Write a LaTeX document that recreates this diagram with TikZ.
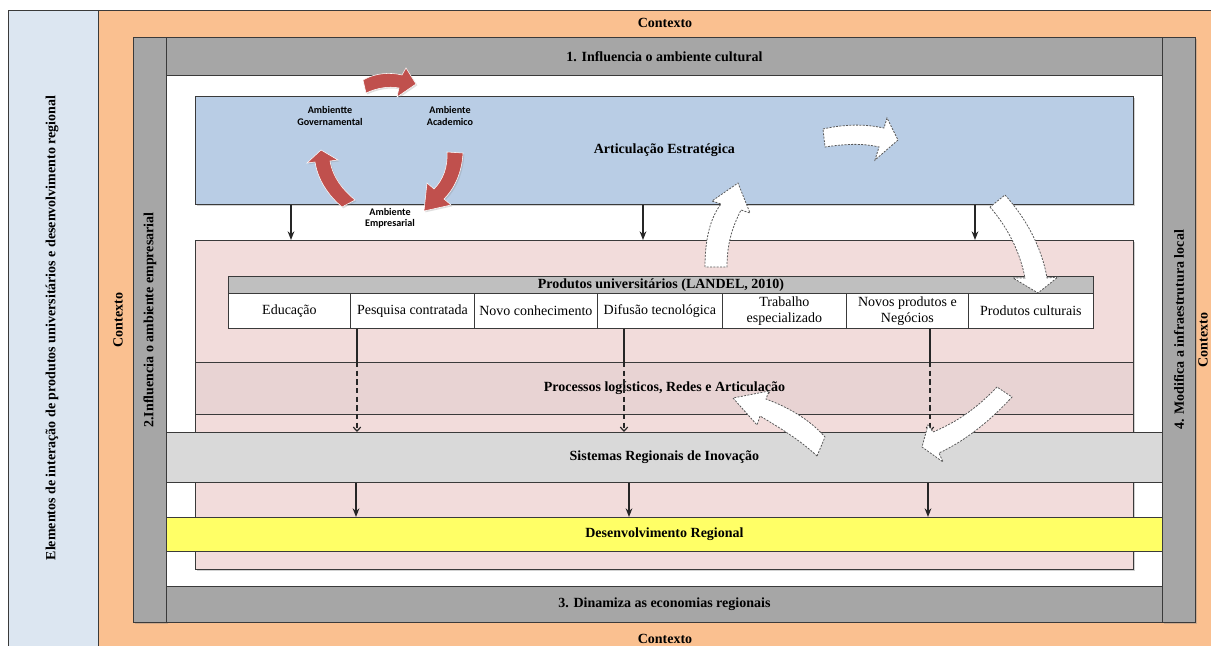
\documentclass[tikz,border=0pt]{standalone}
\usepackage{fontspec}
\setmainfont{Liberation Serif}
\newfontfamily\labelsans{Carlito}
\usetikzlibrary{arrows.meta,shadows,calc}

\definecolor{ctxorange}{HTML}{FAC090}
\definecolor{leftblue}{HTML}{DCE6F1}
\definecolor{framegray}{HTML}{A6A6A6}
\definecolor{artblue}{HTML}{B9CDE5}
\definecolor{prodpink}{HTML}{F2DCDB}
\definecolor{procpink}{HTML}{E8D3D3}
\definecolor{srigray}{HTML}{D9D9D9}
\definecolor{devyellow}{HTML}{FFFF66}
\definecolor{headgray}{HTML}{BFBFBF}
\definecolor{cycred}{HTML}{C0504D}
\definecolor{edgegray}{HTML}{3A3A3A}

\newcommand\hdrfont{\bfseries\fontsize{10.5}{12}\selectfont}
% rectangle node given by its corners (pixel units, y downwards)
\newcommand\boxat[7]{\node[#6, minimum width={(#4-#2)*0.75pt}, minimum height={(#5-#3)*0.75pt}, inner sep=0pt, anchor=north west] (#1) at (#2,#3) {#7};}

\tikzset{
  panel/.style={draw=edgegray, line width=0.6pt},
  softshadow/.style={drop shadow={opacity=0.35, shadow xshift=1.1pt, shadow yshift=-1.1pt}},
  lbl/.style={font=\hdrfont, inner sep=0pt},
  cell/.style={panel, fill=white, align=center, font=\fontsize{10.5}{12}\selectfont},
  down/.style={-{Stealth[length=6.5pt,width=5pt]}, line width=1.1pt, draw=black!85},
  dashdown/.style={dash pattern=on 4pt off 2.5pt, line width=0.9pt, draw=black!85, -{Straight Barb[length=3pt,width=5.5pt]}},
  cyc/.style={fill=cycred, draw=white, line width=0.4pt, drop shadow={opacity=0.25, shadow xshift=1pt, shadow yshift=-1pt}},
  flow/.style={fill=white, draw=black!65, line width=0.6pt, dash pattern=on 1.5pt off 1pt},
  amb/.style={font=\labelsans\bfseries\fontsize{7.6}{8.6}\selectfont, align=center, inner sep=0pt},
}

\begin{document}
\begin{tikzpicture}[x=0.75pt,y=-0.75pt]
\useasboundingbox (0,0) rectangle (1211,646);
\clip (0,0) rectangle (1211,646);

% outer panels
\boxat{side}{8}{10}{98}{660}{panel, fill=leftblue}{}
\boxat{ctx}{98}{10}{1240}{660}{panel, fill=ctxorange}{}

% grey frame
\boxat{lbar}{133}{37}{166}{622}{panel, fill=framegray, softshadow}{}
\boxat{rbar}{1162}{37}{1195}{622}{panel, fill=framegray, softshadow}{}
\boxat{tband}{166}{37}{1162}{75}{panel, fill=framegray, font=\hdrfont}{1. Influencia o ambiente cultural}
\boxat{bband}{166}{586}{1162}{622}{panel, fill=framegray, font=\hdrfont}{3. Dinamiza as economias regionais}
\boxat{inner}{166}{75}{1162}{586}{panel, fill=white}{}

% strategic articulation
\boxat{art}{195}{96}{1133}{204}{panel, fill=artblue, softshadow, font=\hdrfont}{Articulação Estratégica}

% university products area
\boxat{prod}{195}{240}{1133}{569}{panel, fill=prodpink, softshadow}{}
\boxat{proc}{195}{362}{1133}{414}{panel, fill=procpink, font=\hdrfont}{Processos logísticos, Redes e Articulação}

\boxat{phead}{228}{276}{1093}{293}{panel, fill=headgray, font=\hdrfont}{Produtos universitários (LANDEL, 2010)}
\boxat{p1}{228}{293}{350}{328}{cell}{Educação}
\boxat{p2}{350}{293}{474}{328}{cell}{Pesquisa contratada}
\boxat{p3}{474}{293}{597}{328}{cell}{Novo conhecimento}
\boxat{p4}{597}{293}{722}{328}{cell}{Difusão tecnológica}
\boxat{p5}{722}{293}{846}{328}{cell}{Trabalho\\especializado}
\boxat{p6}{846}{293}{968}{328}{cell}{Novos produtos e\\Negócios}
\boxat{p7}{968}{293}{1093}{328}{cell}{Produtos culturais}

% regional bands
\boxat{sri}{166}{432}{1162}{482}{panel, fill=srigray, font=\hdrfont}{Sistemas Regionais de Inovação}
\boxat{dev}{166}{517}{1162}{551}{panel, fill=devyellow, font=\hdrfont}{Desenvolvimento Regional}

% context labels
\node[lbl] (ctxtop) at (665,23) {Contexto};
\node[lbl] (ctxbot) at (665,639) {Contexto};
\node[lbl, rotate=90] (ctxleft) at (118,320) {Contexto};
\node[lbl, rotate=90] (ctxright) at (1203,340) {Contexto};
\node[lbl, rotate=90] (sidetxt) at (52,328) {Elementos de interação de produtos universitários e desenvolvimento regional};
\node[lbl, rotate=90] (ltxt) at (150,320) {2.Influencia o ambiente empresarial};
\node[lbl, rotate=90] (rtxt) at (1179,330) {4. Modifica a infraestrutura local};

% columns of connectors
\coordinate (k1) at (291,0);
\coordinate (k2) at (643,0);
\coordinate (k3) at (975,0);
\coordinate (d1) at (357,0);
\coordinate (d2) at (624,0);
\coordinate (d3) at (930,0);
\coordinate (e1) at (356,0);
\coordinate (e2) at (629,0);
\coordinate (e3) at (928,0);

\draw[down] (art.south -| k1) -- (prod.north -| k1);
\draw[down] (art.south -| k2) -- (prod.north -| k2);
\draw[down] (art.south -| k3) -- (prod.north -| k3);

\draw[line width=0.8pt, draw=black!85] (p2.south -| d1) -- (proc.north -| d1);
\draw[line width=0.8pt, draw=black!85] (p4.south -| d2) -- (proc.north -| d2);
\draw[line width=0.8pt, draw=black!85] (p6.south -| d3) -- (proc.north -| d3);
\draw[dashdown] (proc.north -| d1) -- (sri.north -| d1);
\draw[dashdown] (proc.north -| d2) -- (sri.north -| d2);
\draw[dashdown] (proc.north -| d3) -- (sri.north -| d3);

\draw[down] (sri.south -| e1) -- (dev.north -| e1);
\draw[down] (sri.south -| e2) -- (dev.north -| e2);
\draw[down] (sri.south -| e3) -- (dev.north -| e3);

% triple helix cycle
\path[cyc] (363,80) .. controls (375,73) and (390,72) .. (402,75) -- (406,68) -- (416,84) -- (397,97) -- (399,88) .. controls (388,86) and (377,88) .. (366,93) -- cycle;
\path[cyc] (447,152) -- (463,153) .. controls (462,172) and (455,188) .. (444,199) -- (451,205) -- (424,211) -- (427,183) -- (434,189) .. controls (443,180) and (448,167) .. (447,152) -- cycle;
\path[cyc] (342,207) -- (355,200) .. controls (343,190) and (333,178) .. (330,161) -- (338,160) -- (321,150) -- (307,163) -- (315,162) .. controls (318,180) and (328,195) .. (342,207) -- cycle;

\node[amb] (gov) at (330,116) {Ambientte\\Governamental};
\node[amb] (acad) at (450,116) {Ambiente\\Academico};
\node[amb] (emp) at (390,218) {Ambiente\\Empresarial};

% feedback flows
\draw[flow] (823,129) .. controls (845,124) and (865,124) .. (884,128) -- (887,118) -- (898,140) -- (875,160) -- (879,147) .. controls (862,143) and (845,144) .. (825,147) -- cycle;
\draw[flow] (705,267) .. controls (705,237) and (711,217) .. (721,204) -- (712,201) -- (738,183) -- (750,213) -- (741,210) .. controls (733,226) and (727,242) .. (727,267) -- cycle;
\draw[flow] (990,207) .. controls (1008,228) and (1020,252) .. (1025,278) -- (1013,278) -- (1038,293) -- (1058,277) -- (1047,278) .. controls (1042,248) and (1026,218) .. (1005,195) -- cycle;
\draw[flow] (997,387) .. controls (977,408) and (957,422) .. (933,432) -- (928,425) -- (922,447) -- (943,462) -- (939,453) .. controls (965,441) and (990,421) .. (1012,397) -- cycle;
\draw[flow] (817,456) .. controls (800,440) and (780,428) .. (760,416) -- (757,425) -- (733,398) -- (769,391) -- (766,399) .. controls (790,408) and (810,420) .. (825,437) -- cycle;
\end{tikzpicture}
\end{document}
